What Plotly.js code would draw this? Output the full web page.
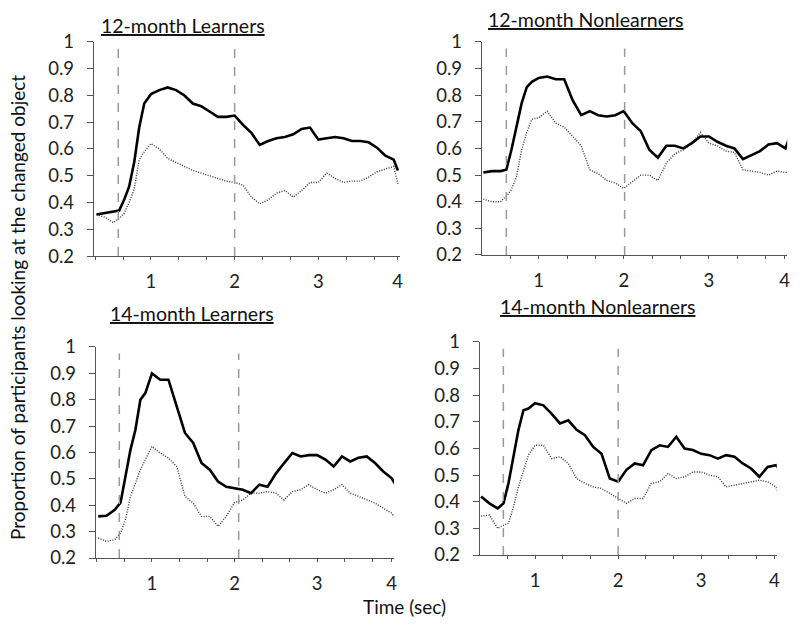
<!DOCTYPE html>
<html>
<head>
<meta charset="utf-8">
<script src="https://cdn.plot.ly/plotly-3.0.1.min.js"></script>
<style>
  html, body { margin: 0; padding: 0; background: #fff; }
  #chart { width: 800px; height: 626px; }
</style>
</head>
<body>
<div id="chart"></div>
<script>
// time in seconds, shared by all four panels
var timeSec = [0.35, 0.45, 0.55, 0.62, 0.68, 0.74, 0.8, 0.86, 0.92, 1.0,
  1.1, 1.2, 1.3, 1.4, 1.5, 1.6, 1.7, 1.8, 1.9, 2.0,
  2.1, 2.2, 2.3, 2.4, 2.5, 2.6, 2.7, 2.8, 2.9, 3.0,
  3.1, 3.2, 3.3, 3.4, 3.5, 3.6, 3.7, 3.8, 3.9, 3.95];

var panelTitles = ["12-month Learners", "12-month Nonlearners", "14-month Learners", "14-month Nonlearners"];

// solid line
var learn12Solid = [0.355, 0.36, 0.365, 0.37, 0.41, 0.46, 0.55, 0.68, 0.77, 0.805,
  0.82, 0.83, 0.82, 0.80, 0.77, 0.76, 0.74, 0.72, 0.72, 0.725,
  0.69, 0.66, 0.615, 0.63, 0.64, 0.645, 0.655, 0.675, 0.68, 0.635,
  0.64, 0.645, 0.64, 0.63, 0.63, 0.625, 0.605, 0.575, 0.56, 0.52];
// dotted line
var learn12Dot = [0.355, 0.345, 0.325, 0.34, 0.36, 0.40, 0.45, 0.56, 0.59, 0.62,
  0.60, 0.565, 0.55, 0.535, 0.52, 0.51, 0.50, 0.49, 0.48, 0.475,
  0.465, 0.42, 0.395, 0.41, 0.435, 0.445, 0.42, 0.445, 0.475, 0.475,
  0.51, 0.49, 0.475, 0.48, 0.48, 0.495, 0.515, 0.525, 0.535, 0.47];

var nonlearn12Solid = [0.51, 0.515, 0.515, 0.52, 0.595, 0.68, 0.77, 0.83, 0.85, 0.865,
  0.87, 0.86, 0.86, 0.78, 0.725, 0.74, 0.725, 0.72, 0.725, 0.74,
  0.695, 0.665, 0.595, 0.565, 0.61, 0.61, 0.60, 0.62, 0.645, 0.645,
  0.625, 0.61, 0.60, 0.56, 0.575, 0.59, 0.615, 0.62, 0.60, 0.645];
var nonlearn12Dot = [0.41, 0.40, 0.40, 0.42, 0.445, 0.495, 0.595, 0.66, 0.71, 0.715,
  0.74, 0.695, 0.68, 0.645, 0.61, 0.52, 0.505, 0.48, 0.47, 0.45,
  0.475, 0.50, 0.50, 0.48, 0.545, 0.58, 0.595, 0.62, 0.66, 0.62,
  0.61, 0.59, 0.585, 0.52, 0.515, 0.51, 0.50, 0.515, 0.51, 0.51];

var learn14Solid = [0.358, 0.36, 0.383, 0.41, 0.51, 0.61, 0.686, 0.80, 0.825, 0.90,
  0.876, 0.876, 0.775, 0.674, 0.636, 0.56, 0.535, 0.49, 0.47, 0.465,
  0.459, 0.446, 0.478, 0.47, 0.52, 0.56, 0.598, 0.585, 0.59, 0.59,
  0.573, 0.547, 0.585, 0.566, 0.58, 0.585, 0.56, 0.528, 0.503, 0.478];
var learn14Dot = [0.276, 0.263, 0.27, 0.295, 0.345, 0.434, 0.484, 0.535, 0.573, 0.623,
  0.598, 0.579, 0.547, 0.434, 0.408, 0.358, 0.358, 0.32, 0.358, 0.41,
  0.42, 0.446, 0.446, 0.452, 0.446, 0.42, 0.452, 0.459, 0.478, 0.459,
  0.446, 0.459, 0.478, 0.446, 0.434, 0.42, 0.408, 0.389, 0.37, 0.35];

var nonlearn14Solid = [0.42, 0.394, 0.375, 0.394, 0.47, 0.57, 0.67, 0.744, 0.75, 0.77,
  0.762, 0.73, 0.694, 0.706, 0.67, 0.65, 0.606, 0.58, 0.487, 0.475,
  0.52, 0.544, 0.537, 0.594, 0.612, 0.606, 0.644, 0.60, 0.594, 0.58,
  0.575, 0.562, 0.575, 0.569, 0.544, 0.525, 0.494, 0.531, 0.537, 0.52];
var nonlearn14Dot = [0.346, 0.35, 0.30, 0.312, 0.319, 0.381, 0.456, 0.519, 0.575, 0.612,
  0.612, 0.562, 0.569, 0.544, 0.487, 0.469, 0.456, 0.45, 0.431, 0.412,
  0.394, 0.412, 0.412, 0.469, 0.475, 0.506, 0.487, 0.494, 0.512, 0.512,
  0.50, 0.494, 0.456, 0.462, 0.469, 0.475, 0.481, 0.475, 0.456, 0.406];

// vertical dashed markers (sec) per panel
var cueTimes = [[0.61, 2.0], [0.62, 2.01], [0.605, 2.05], [0.618, 2.0]];

var solidSeries = [learn12Solid, nonlearn12Solid, learn14Solid, nonlearn14Solid];
var dotSeries = [learn12Dot, nonlearn12Dot, learn14Dot, nonlearn14Dot];

// panel placement
var xDomains = [[0.1175, 0.5], [0.6025, 0.984], [0.12, 0.4925], [0.6, 0.971]];
var yDomains = [[0.591, 0.933], [0.5927, 0.933], [0.1086, 0.4457], [0.1134, 0.4537]];
var xRanges = [[0.32, 3.975], [0.334, 3.92], [0.323, 3.93], [0.337, 3.91]];
var titlePos = [[0.229, 0.959], [0.7315, 0.969], [0.2405, 0.5], [0.7465, 0.511]];

var FONT = "Lato, 'Open Sans', sans-serif";
var data = [];
var shapes = [];
var annotations = [];
var layout = {
  width: 800, height: 626,
  margin: { l: 0, r: 0, t: 0, b: 0 },
  paper_bgcolor: "#fff", plot_bgcolor: "#fff",
  showlegend: false,
  font: { family: FONT, size: 18, color: "#333" }
};

for (var i = 0; i < 4; i++) {
  var n = i === 0 ? "" : String(i + 1);
  var xa = "x" + n, ya = "y" + n;
  data.push({
    x: timeSec, y: dotSeries[i], xaxis: xa, yaxis: ya,
    type: "scatter", mode: "lines",
    line: { color: "#333", width: 1.4, dash: "1px,1.5px" }
  });
  data.push({
    x: timeSec, y: solidSeries[i], xaxis: xa, yaxis: ya,
    type: "scatter", mode: "lines",
    line: { color: "#000", width: 2.6 }
  });
  var xr = xRanges[i];
  layout["xaxis" + n] = {
    domain: xDomains[i], anchor: ya, range: xr,
    showline: true, linecolor: "#555", linewidth: 1.2,
    showgrid: false, zeroline: false,
    ticks: "outside", ticklen: 3, tickcolor: "#555",
    tickvals: [1, 2, 3, xr[1] - 0.03], ticktext: ["1", "2", "3", "4"],
    ticklabelstandoff: 6,
    minor: { tickmode: "linear", tick0: 1, dtick: 1 / 3, ticks: "outside", ticklen: 3, tickcolor: "#555", showgrid: false },
    tickfont: { family: FONT, size: 18.5, color: "#222" }
  };
  layout["yaxis" + n] = {
    domain: yDomains[i], anchor: xa, range: [0.2, 1],
    showline: true, linecolor: "#555", linewidth: 1.2,
    showgrid: false, zeroline: false,
    tickvals: [0.2, 0.3, 0.4, 0.5, 0.6, 0.7, 0.8, 0.9, 1],
    ticktext: ["0.2", "0.3", "0.4", "0.5", "0.6", "0.7", "0.8", "0.9", "1"],
    ticks: "outside", ticklen: 6, tickcolor: "#555",
    ticklabelstandoff: 9,
    tickfont: { family: FONT, size: 18.5, color: "#222" }
  };
  cueTimes[i].forEach(function (t) {
    shapes.push({
      type: "line", xref: xa, yref: ya, x0: t, x1: t, y0: 0.2, y1: 0.975,
      line: { color: "#999", width: 1.5, dash: "dash" }
    });
  });
  annotations.push({
    xref: "paper", yref: "paper", x: titlePos[i][0], y: titlePos[i][1],
    xanchor: "center", yanchor: "middle", showarrow: false,
    text: "<u>" + panelTitles[i] + "</u>",
    font: { family: FONT, size: 19.5, color: "#111" }
  });
}

annotations.push({
  xref: "paper", yref: "paper", x: 18 / 800, y: 1 - 308 / 626,
  xanchor: "center", yanchor: "middle", showarrow: false, textangle: -90,
  text: "Proportion of participants looking at the changed object",
  font: { family: FONT, size: 19, color: "#111" }
});
annotations.push({
  xref: "paper", yref: "paper", x: 404 / 800, y: 1 - 606 / 626,
  xanchor: "center", yanchor: "middle", showarrow: false,
  text: "Time (sec)",
  font: { family: FONT, size: 19, color: "#111" }
});

layout.shapes = shapes;
layout.annotations = annotations;

Plotly.newPlot("chart", data, layout, { staticPlot: true });
</script>
</body>
</html>
